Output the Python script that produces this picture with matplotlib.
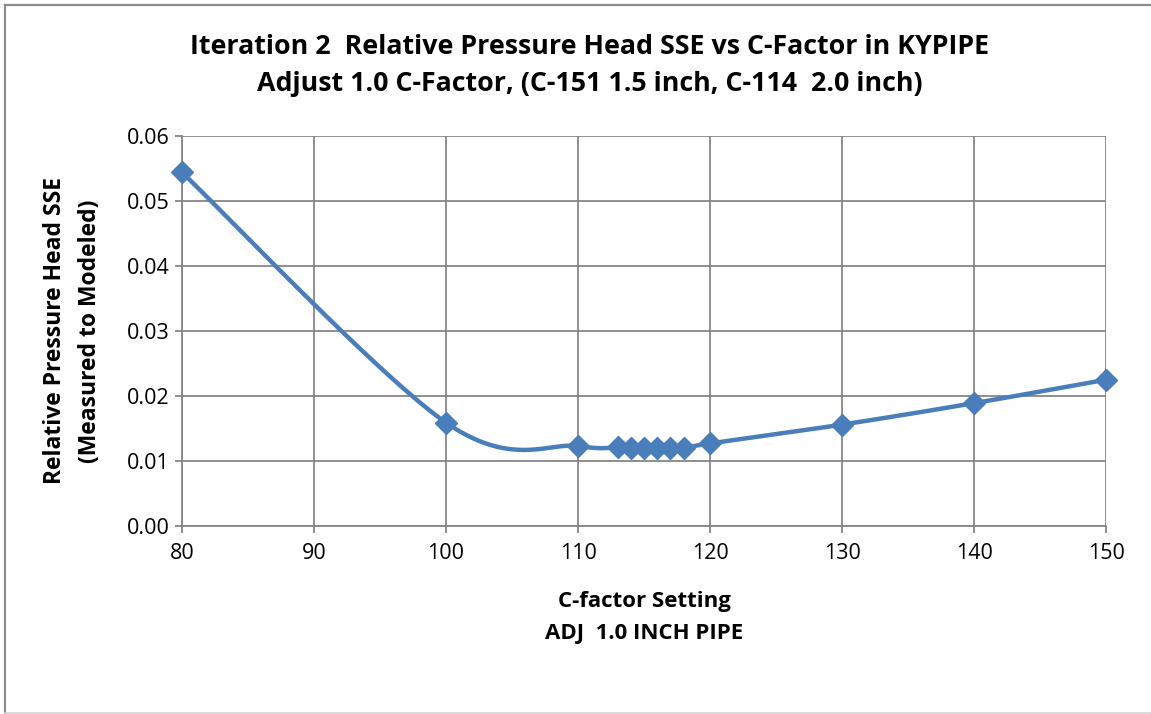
import numpy as np
import matplotlib
matplotlib.use("Agg")
import matplotlib.pyplot as plt
from matplotlib.lines import Line2D

c_factor = [80, 100, 110, 113, 114, 115, 116, 117, 118, 120, 130, 140, 150]
sse = [0.0544, 0.0159, 0.0123, 0.0121, 0.0120, 0.0120, 0.0120, 0.0120, 0.0120,
       0.0127, 0.0156, 0.0189, 0.0225]
x_ticks = [80, 90, 100, 110, 120, 130, 140, 150]
y_ticks = [0.00, 0.01, 0.02, 0.03, 0.04, 0.05, 0.06]

title_lines = ["Iteration 2  Relative Pressure Head SSE vs C-Factor in KYPIPE",
               "Adjust 1.0 C-Factor, (C-151 1.5 inch, C-114  2.0 inch)"]
xlabel_lines = ["C-factor Setting", "ADJ  1.0 INCH PIPE"]
ylabel_lines = ["Relative Pressure Head SSE", "(Measured to Modeled)"]

plt.rcParams['font.family'] = ['Open Sans', 'DejaVu Sans']

W, H = 1151, 714
fig = plt.figure(figsize=(W / 100, H / 100), dpi=100)
ax = fig.add_axes([182 / W, 1 - 526 / H, (1106 - 182) / W, (526 - 136) / H])

# smooth curve (Excel-like Catmull-Rom Bezier), computed in screen space
def smooth(xs, ys, n=40):
    x = np.asarray(xs, float)
    y = np.asarray(ys, float)
    sx = (x - 80) / 70 * 924
    sy = y / 0.06 * 390
    P = np.column_stack([sx, sy])
    out = [P[0]]
    for i in range(len(P) - 1):
        p0 = P[i - 1] if i > 0 else P[i]
        p1 = P[i]
        p2 = P[i + 1]
        p3 = P[i + 2] if i + 2 < len(P) else P[i + 1]
        c1 = p1 + (p2 - p0) / 6
        c2 = p2 - (p3 - p1) / 6
        t = np.linspace(0, 1, n)[1:, None]
        seg = ((1 - t) ** 3) * p1 + 3 * ((1 - t) ** 2) * t * c1 + 3 * (1 - t) * t ** 2 * c2 + t ** 3 * p2
        out.extend(seg)
    out = np.array(out)
    return out[:, 0] / 924 * 70 + 80, out[:, 1] / 390 * 0.06

line_color = '#4A7EBB'
cx, cy = smooth(c_factor, sse)
ax.plot(cx, cy, color=line_color, lw=3.2, solid_capstyle='round', zorder=3, clip_on=False)
ax.plot(c_factor, sse, linestyle='none', marker='D', markersize=11.5,
        color=line_color, zorder=4, clip_on=False)

ax.set_xlim(80, 150)
ax.set_ylim(0, 0.06)
ax.set_xticks(x_ticks)
ax.set_yticks(y_ticks)
ax.set_xticklabels([str(v) for v in x_ticks])
ax.set_yticklabels([f"{v:.2f}" for v in y_ticks])
grid_c = '#868686'
ax.grid(True, color=grid_c, lw=1.3)
ax.set_axisbelow(True)
for s in ['top', 'right']:
    ax.spines[s].set_visible(False)
for s in ['left', 'bottom']:
    ax.spines[s].set_color(grid_c)
    ax.spines[s].set_linewidth(1.3)
ax.tick_params(axis='both', colors=grid_c, length=5, width=1.3, direction='out',
               labelcolor='black', labelsize=15.5)
ax.tick_params(axis='x', pad=7)
ax.tick_params(axis='y', pad=4)

for txt, yy in zip(title_lines, [47, 84]):
    fig.text(590 / W, 1 - yy / H, txt, ha='center', va='center', fontsize=19.3,
             fontweight='bold')
for txt, xx in zip(ylabel_lines, [55, 90]):
    fig.text(xx / W, 1 - 331 / H, txt, ha='center', va='center', fontsize=16.5,
             fontweight='bold', rotation=90)
for txt, yy in zip(xlabel_lines, [601, 634]):
    fig.text(644 / W, 1 - yy / H, txt, ha='center', va='center', fontsize=16,
             fontweight='bold')

# chart frame as seen in the screenshot: dark left/top edges, faint bottom edge
def px_line(x0, y0, x1, y1, color, lw):
    fig.add_artist(Line2D([x0 / W, x1 / W], [1 - y0 / H, 1 - y1 / H],
                          transform=fig.transFigure, color=color, lw=lw))

px_line(4.5, 4.5, 4.5, H, '#8C8C8C', 1.6)
px_line(4.5, 4.5, W, 4.5, '#8C8C8C', 1.6)
px_line(4.5, 713, W, 713, '#D4D4D4', 1.2)

fig.savefig('out.png', dpi=100)
